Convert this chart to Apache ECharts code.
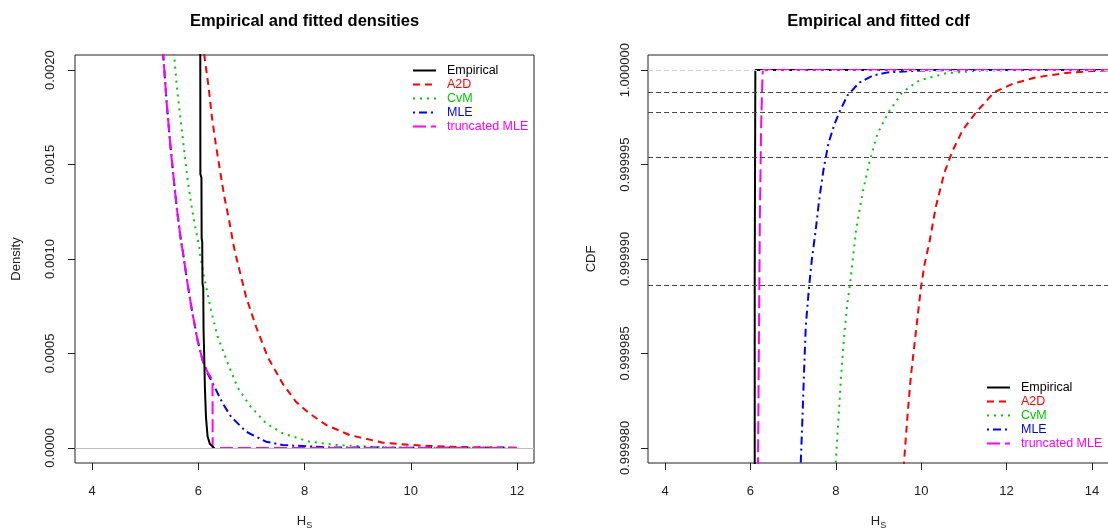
<!DOCTYPE html>
<html>
<head>
<meta charset="utf-8">
<script src="https://cdn.jsdelivr.net/npm/echarts@6/dist/echarts.min.js"></script>
<style>
html,body{margin:0;padding:0;background:#fff;}
#chart{width:1108px;height:531px;}
</style>
</head>
<body>
<div id="chart"></div>
<script>
// ---------- data ----------
const seriesNames = ['Empirical', 'A2D', 'CvM', 'MLE', 'truncated MLE'];

const xTicksDens = [4, 6, 8, 10, 12];
const yTicksDens = [0, 0.0005, 0.001, 0.0015, 0.002];
const xTicksCdf = [4, 6, 8, 10, 12, 14];
const yTicksCdf = [0.99998, 0.999985, 0.99999, 0.999995, 1.0];
const hLinesCdf = [0.99999883, 0.99999775, 0.99999541, 0.99998862];

const densEmpirical = [[6.038,0.0022],[6.040,0.00145],[6.060,0.00143],[6.064,0.00111],[6.075,0.00109],[6.080,0.00087],[6.094,0.00085],[6.100,0.00062],[6.113,0.00048],[6.125,0.00032],[6.145,0.000165],[6.176,0.00006],[6.22,0.00002],[6.30,0]];
const densA2D = [[6.05,0.00221],[6.113,0.00208],[6.195,0.00191],[6.258,0.00175],[6.334,0.0016],[6.409,0.00147],[6.49,0.00133],[6.585,0.0012],[6.66,0.00108],[6.698,0.00103],[6.90,0.0008],[7.09,0.00064],[7.31,0.00048],[7.59,0.00034],[7.84,0.000244],[8.09,0.000183],[8.41,0.000121],[8.85,0.000068],[9.48,0.0000275],[9.79,0.00002],[10.2,0.0000117],[10.8,0.0000054],[11.4,0.0000025],[12,0.0000012]];
const densCvM = [[5.50,0.00224],[5.547,0.00208],[5.591,0.00193],[5.642,0.0018],[5.692,0.00168],[5.749,0.00154],[5.81,0.0014],[5.874,0.00128],[5.943,0.00117],[6.019,0.001065],[6.03,0.00103],[6.113,0.0009],[6.24,0.00073],[6.364,0.00059],[6.553,0.00045],[6.742,0.00032],[6.962,0.000227],[7.277,0.00013],[7.59,0.000077],[8.09,0.000033],[8.6,0.000015],[9.5,0.000003],[10.5,0.0000005],[12,0]];
const densMLE = [[5.30,0.00222],[5.34,0.00208],[5.372,0.00196],[5.402,0.00184],[5.434,0.001735],[5.472,0.00161],[5.515,0.00149],[5.56,0.001365],[5.609,0.00124],[5.673,0.0011],[5.704,0.00105],[5.798,0.00087],[5.892,0.00071],[5.987,0.00057],[6.08,0.000465],[6.176,0.000395],[6.334,0.000307],[6.46,0.000236],[6.617,0.000165],[6.9,0.000086],[7.277,0.000033],[7.59,0.000015],[8.5,0.000002],[12,0]];
const densTruncMLE = [[5.30,0.00222],[5.34,0.00208],[5.372,0.00196],[5.402,0.00184],[5.434,0.001735],[5.472,0.00161],[5.515,0.00149],[5.56,0.001365],[5.609,0.00124],[5.673,0.0011],[5.704,0.00105],[5.798,0.00087],[5.892,0.00071],[5.987,0.00057],[6.08,0.000465],[6.176,0.0004],[6.268,0.00036],[6.272,0],[12,0]];

const cdfEmpirical = [[6.10,0.99997],[6.10,0.999989],[6.115,0.999989],[6.115,1.0],[14.4,1.0]];
const cdfA2D = [[9.55,0.999977],[9.60,0.9999793],[9.68,0.99998173],[9.76,0.99998383],[9.875,0.99998612],[9.99,0.9999884],[10.07,0.99998963],[10.19,0.99999085],[10.345,0.99999278],[10.54,0.99999454],[10.73,0.9999957],[10.97,0.99999682],[11.28,0.99999775],[11.71,0.99999883],[12.14,0.99999927],[12.69,0.99999962],[13.39,0.99999985],[14.0,0.99999995],[14.4,0.99999998]];
const cdfCvM = [[7.96,0.999977],[8.0,0.9999793],[8.062,0.99998155],[8.125,0.99998383],[8.195,0.99998594],[8.273,0.9999877],[8.33,0.99998862],[8.47,0.99999146],[8.624,0.99999348],[8.78,0.99999506],[8.976,0.99999664],[9.23,0.99999775],[9.56,0.99999883],[9.95,0.99999945],[10.58,0.99999983],[11.36,0.99999997],[12.5,1.0],[14.4,1.0]];
const cdfMLE = [[7.14,0.999977],[7.18,0.9999793],[7.218,0.99998155],[7.258,0.99998418],[7.297,0.99998646],[7.375,0.99998857],[7.438,0.99998997],[7.53,0.99999155],[7.61,0.99999313],[7.71,0.99999471],[7.827,0.99999612],[7.96,0.99999708],[8.078,0.99999775],[8.273,0.99999866],[8.547,0.99999933],[8.86,0.99999971],[9.21,0.99999988],[10.0,0.99999998],[11,1.0],[14.4,1.0]];
const cdfTruncMLE = [[6.17,0.999975],[6.18,0.99998],[6.20,0.999986],[6.22,0.999992],[6.25,0.999997],[6.28,0.9999995],[6.29,1.0],[14.4,1.0]];

// ---------- styles ----------
const FONT = '"Liberation Sans", Arial, sans-serif';
const colors = ['#000000', '#ff0000', '#00c800', '#0000ff', '#ff00ff'];
const dashes = ['solid', [7, 5], [2, 5], [2, 4, 8, 4], [13, 5]];
const TXT = '#222';

function lineSeries(name, data, gridIdx, extra) {
  const i = seriesNames.indexOf(name);
  return Object.assign({
    name: name,
    type: 'line',
    xAxisIndex: gridIdx,
    yAxisIndex: gridIdx,
    data: data,
    symbol: 'none',
    showSymbol: false,
    clip: true,
    smooth: false,
    animation: false,
    lineStyle: { color: colors[i], width: 2, type: dashes[i] },
    itemStyle: { color: colors[i] },
    emphasis: { disabled: true }
  }, extra || {});
}

function xAxisDef(gridIdx, min, max, ticks) {
  return {
    gridIndex: gridIdx, type: 'value', min: min, max: max,
    axisLine: { show: false, onZero: false },
    axisTick: { show: true, inside: false, length: 7, customValues: ticks, lineStyle: { color: TXT } },
    axisLabel: { customValues: ticks, margin: 22, fontSize: 13, color: TXT, fontFamily: FONT },
    splitLine: { show: false },
    name: '{h|H}{s|S}', nameLocation: 'middle', nameGap: 49,
    nameTextStyle: {
      color: TXT, fontFamily: FONT,
      rich: { h: { fontSize: 13, color: TXT, fontFamily: FONT }, s: { fontSize: 9, color: TXT, fontFamily: FONT, padding: [9, 0, 0, 0] } }
    }
  };
}
function yAxisDef(gridIdx, min, max, ticks, digits, margin, name, gap) {
  return {
    gridIndex: gridIdx, type: 'value', min: min, max: max,
    axisLine: { show: false, onZero: false },
    axisTick: { show: true, inside: false, length: 7, customValues: ticks, lineStyle: { color: TXT } },
    axisLabel: { customValues: ticks, rotate: 90, margin: margin, fontSize: 13, color: TXT, fontFamily: FONT,
      formatter: v => Number(v).toFixed(digits) },
    splitLine: { show: false },
    name: name, nameLocation: 'middle', nameGap: gap,
    nameTextStyle: { fontSize: 13, color: TXT, fontFamily: FONT }
  };
}

const legendData = seriesNames.map((n, i) => ({ name: n, textStyle: { color: colors[i] } }));
function legendDef(left, top) {
  return {
    orient: 'vertical', left: left, top: top,
    itemWidth: 23, itemHeight: 14, itemGap: 1,
    selectedMode: false,
    data: legendData,
    itemStyle: { opacity: 0, borderWidth: 0 },
    textStyle: { fontSize: 12.5, fontFamily: FONT, padding: [0, 0, 0, 6] }
  };
}

const ml = { symbol: ['none', 'none'], silent: true, precision: 12, label: { show: false }, animation: false, emphasis: { disabled: true } };

const option = {
  animation: false,
  backgroundColor: '#fff',
  textStyle: { fontFamily: FONT },
  graphic: [
    { type: 'text', x: 304.5, y: 21, style: { text: 'Empirical and fitted densities', textAlign: 'center', textVerticalAlign: 'middle', font: 'bold 16.5px ' + FONT, fill: '#000' } },
    { type: 'text', x: 878.5, y: 21, style: { text: 'Empirical and fitted cdf', textAlign: 'center', textVerticalAlign: 'middle', font: 'bold 16.5px ' + FONT, fill: '#000' } }
  ],
  grid: [
    { left: 75, top: 55, width: 459, height: 408, show: true, borderColor: '#222', borderWidth: 1, backgroundColor: 'transparent', containLabel: false, outerBoundsMode: 'none' },
    { left: 648, top: 55, width: 461, height: 408, show: true, borderColor: '#222', borderWidth: 1, backgroundColor: 'transparent', containLabel: false, outerBoundsMode: 'none' }
  ],
  xAxis: [
    xAxisDef(0, 3.68, 12.32, xTicksDens),
    xAxisDef(1, 3.6, 14.4, xTicksCdf)
  ],
  yAxis: [
    yAxisDef(0, -0.00008, 0.00208, yTicksDens, 4, 18, 'Density', 52),
    yAxisDef(1, 0.9999792, 1.0000008, yTicksCdf, 6, 16, 'CDF', 50)
  ],
  legend: [legendDef(407, 59), legendDef(981, 376)],
  series: [
    lineSeries('A2D', densA2D, 0),
    lineSeries('CvM', densCvM, 0),
    lineSeries('MLE', densMLE, 0),
    lineSeries('truncated MLE', densTruncMLE, 0),
    lineSeries('Empirical', densEmpirical, 0, {
      markLine: Object.assign({}, ml, { data: [{ yAxis: 0, lineStyle: { color: '#bebebe', width: 1, type: 'solid' } }] })
    }),

    lineSeries('Empirical', cdfEmpirical, 1, {
      markLine: Object.assign({}, ml, {
        data: [{ yAxis: 1.0, lineStyle: { color: '#cfcfcf', width: 1, type: [5, 3] } }]
          .concat(hLinesCdf.map(v => ({ yAxis: v, lineStyle: { color: '#4a4a4a', width: 1, type: [5, 3] } })))
      })
    }),
    lineSeries('A2D', cdfA2D, 1),
    lineSeries('CvM', cdfCvM, 1),
    lineSeries('MLE', cdfMLE, 1),
    lineSeries('truncated MLE', cdfTruncMLE, 1)
  ]
};

const chart = echarts.init(document.getElementById('chart'), null, { renderer: 'canvas' });
chart.setOption(option);
</script>
</body>
</html>
